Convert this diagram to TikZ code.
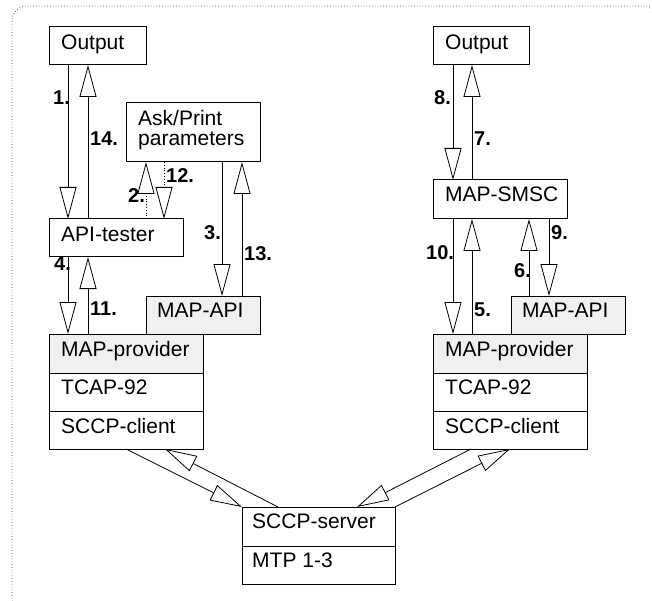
\documentclass[tikz,border=0pt]{standalone}
\usepackage{fontspec}
\setmainfont{Liberation Sans}
\usetikzlibrary{arrows.meta}
\begin{document}
\begin{tikzpicture}[x=1pt,y=-1pt,
  box/.style={draw, line width=1pt, anchor=north west, inner sep=0pt, outer sep=0pt},
  graybox/.style={box, fill=gray!12},
  txt/.style={anchor=base west, inner sep=0pt, font=\fontsize{21}{25}\selectfont},
  num/.style={anchor=base west, inner sep=0pt, font=\fontsize{20}{24}\selectfont\bfseries},
  flow/.style={line width=0.8pt, -{Triangle[length=32pt, width=17pt, fill=white, line width=0.8pt]}}]
\useasboundingbox (0,0) rectangle (652,601);

% dotted outer frame
\begin{scope}
  \clip (0,0) rectangle (652,601);
  \draw[black!65, dotted, line width=0.8pt, rounded corners=15pt] (12,6) rectangle (660,614);
\end{scope}

% left station
\node[box, minimum width=97pt, minimum height=38pt] (out1) at (49,27) {};
\node[box, minimum width=134pt, minimum height=59pt] (ask) at (126,103) {};
\node[box, minimum width=134pt, minimum height=38pt] (api) at (49,219) {};
\node[graybox, minimum width=114pt, minimum height=38pt] (mapi1) at (146,296) {};
\node[graybox, minimum width=154pt, minimum height=39pt] (prov1) at (49,334) {};
\node[box, minimum width=154pt, minimum height=38pt] (tcap1) at (49,373) {};
\node[box, minimum width=154pt, minimum height=38pt] (sccpc1) at (49,411) {};

% right station
\node[box, minimum width=96pt, minimum height=38pt] (out2) at (433,27) {};
\node[box, minimum width=134pt, minimum height=39pt] (smsc) at (433,180) {};
\node[graybox, minimum width=114pt, minimum height=38pt] (mapi2) at (511,296) {};
\node[graybox, minimum width=154pt, minimum height=39pt] (prov2) at (433,334) {};
\node[box, minimum width=154pt, minimum height=38pt] (tcap2) at (433,373) {};
\node[box, minimum width=154pt, minimum height=38pt] (sccpc2) at (433,411) {};

% shared SCCP server
\node[box, minimum width=153pt, minimum height=39pt] (srv) at (242,507) {};
\node[box, minimum width=153pt, minimum height=38pt] (mtp) at (242,546) {};

% box texts
\node[txt] (t1) at (61,50) {Output};
\node[txt] (t2) at (138,126) {Ask/Print};
\node[txt] (t3) at (138,146) {parameters};
\node[txt] (t4) at (61,242) {API-tester};
\node[txt] (t5) at (157,317) {MAP-API};
\node[txt] (t6) at (61,356) {MAP-provider};
\node[txt] (t7) at (61,394) {TCAP-92};
\node[txt] (t8) at (61,433) {SCCP-client};
\node[txt] (t9) at (445,50) {Output};
\node[txt] (t10) at (445,202) {MAP-SMSC};
\node[txt] (t11) at (522,317) {MAP-API};
\node[txt] (t12) at (445,356) {MAP-provider};
\node[txt] (t13) at (445,394) {TCAP-92};
\node[txt] (t14) at (445,433) {SCCP-client};
\node[txt] (t15) at (252,528) {SCCP-server};
\node[txt] (t16) at (252,567) {MTP 1-3};

% left message flows
\draw[flow] (68,0 |- out1.south) -- (68,0 |- api.north);
\draw[flow] (88,0 |- api.north) -- (88,0 |- out1.south);
\draw[flow, dotted] (146,0 |- api.north) -- (146,0 |- ask.south);
\draw[flow, dotted] (164,0 |- ask.south) -- (164,0 |- api.north);
\draw[flow] (222,0 |- ask.south) -- (222,0 |- mapi1.north);
\draw[flow] (242,0 |- mapi1.north) -- (242,0 |- ask.south);
\draw[flow] (68,0 |- api.south) -- (68,0 |- prov1.north);
\draw[flow] (88,0 |- prov1.north) -- (88,0 |- api.south);

% right message flows
\draw[flow] (453,0 |- out2.south) -- (453,0 |- smsc.north);
\draw[flow] (472,0 |- smsc.north) -- (472,0 |- out2.south);
\draw[flow] (453,0 |- smsc.south) -- (453,0 |- prov2.north);
\draw[flow] (472,0 |- prov2.north) -- (472,0 |- smsc.south);
\draw[flow] (529,0 |- mapi2.north) -- (529,0 |- smsc.south);
\draw[flow] (549,0 |- smsc.south) -- (549,0 |- mapi2.north);

% links to the SCCP server
\draw[flow] (126,0 |- sccpc1.south) -- (srv.north west);
\draw[flow] (278,0 |- srv.north) -- (165,0 |- sccpc1.south);
\draw[flow] (471,0 |- sccpc2.south) -- (357,0 |- srv.north);
\draw[flow] (srv.north east) -- (510,0 |- sccpc2.south);

% step numbers
\node[num] (n1) at (53,105) {1.};
\node[num] (n14) at (90,146) {14.};
\node[num] (n2) at (128,203) {2.};
\node[num] (n12) at (166,183) {12.};
\node[num] (n3) at (204,240) {3.};
\node[num] (n13) at (244,260) {13.};
\node[num] (n4) at (54,270) {4.};
\node[num] (n11) at (90,315) {11.};
\node[num] (n8) at (434,105) {8.};
\node[num] (n7) at (474,146) {7.};
\node[num] (n10) at (426,259) {10.};
\node[num] (n5) at (474,316) {5.};
\node[num] (n6) at (514,277) {6.};
\node[num] (n9) at (551,240) {9.};
\end{tikzpicture}
\end{document}
